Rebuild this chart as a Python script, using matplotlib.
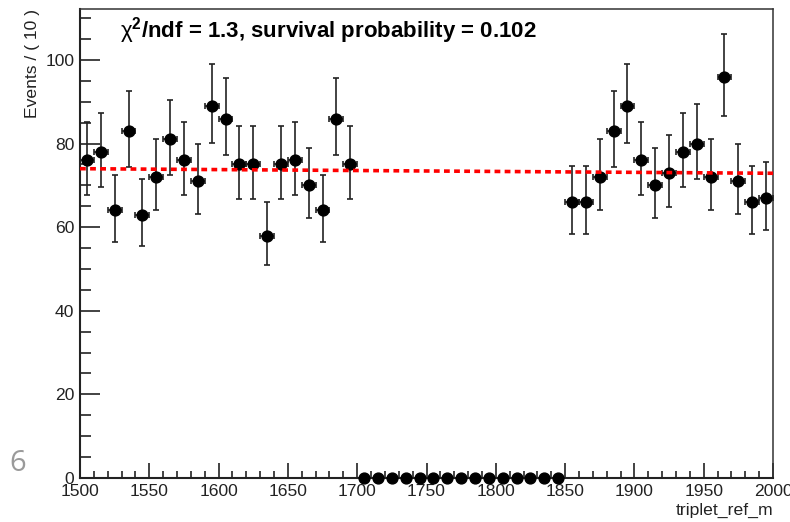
import numpy as np
import matplotlib
matplotlib.use("Agg")
import matplotlib.pyplot as plt
from matplotlib.ticker import MultipleLocator

# ---- data ----
bin_width = 10
x_start = 1500
counts_low = [76, 78, 64, 83, 63, 72, 81, 76, 71, 89, 86, 75, 75, 58, 75, 76, 70, 64, 86, 75]
counts_blind = [0] * 15
counts_high = [66, 66, 72, 83, 89, 76, 70, 73, 78, 80, 72, 96, 71, 66, 67]
fit_x = [1500, 2000]
fit_y = [74.0, 72.9]
x_ticks = [1500, 1550, 1600, 1650, 1700, 1750, 1800, 1850, 1900, 1950, 2000]
y_ticks = [0, 20, 40, 60, 80, 100]
title_text = "$\\mathrm{\\chi}$$^{\\mathbf{2}}$/ndf = 1.3, survival probability = 0.102"
x_label = "triplet_ref_m"
y_label = "Events / ( 10 )"
page_number = "6"

counts = np.array(counts_low + counts_blind + counts_high, dtype=float)
centers = x_start + bin_width * (np.arange(len(counts)) + 0.5)

# Poisson (Garwood-like) asymmetric errors
err_lo = np.sqrt(counts + 0.25) - 0.5
err_hi = np.sqrt(counts + 0.25) + 0.5

plt.rcParams['font.family'] = ['Liberation Sans', 'DejaVu Sans']
plt.rcParams['mathtext.fontset'] = 'custom'
plt.rcParams['mathtext.rm'] = 'Liberation Sans'
plt.rcParams['mathtext.bf'] = 'Liberation Sans:bold'
plt.rcParams['mathtext.it'] = 'Liberation Sans:italic'

fig = plt.figure(figsize=(7.9, 5.22), dpi=100)
ax = fig.add_axes([80 / 790, 1 - 478 / 522, (773 - 80) / 790, (478 - 9) / 522])

nz = counts > 0
ax.errorbar(centers[nz], counts[nz], yerr=[err_lo[nz], err_hi[nz]],
            xerr=bin_width / 2, fmt='o', color='black', ecolor='#222222',
            elinewidth=1.2, capsize=2.4, capthick=1.2, markersize=7.8,
            zorder=3, clip_on=False)
ax.plot(centers[~nz], counts[~nz], 'o', color='black', markersize=7.8,
        zorder=3, clip_on=False)

ax.plot(fit_x, fit_y, color='#ff0000', linewidth=2.6,
        linestyle=(0, (1.6, 1.2)), zorder=4)

ax.set_xlim(1500, 2000)
ax.set_ylim(0, 112.2)

ax.set_xticks(x_ticks)
ax.set_yticks(y_ticks)
ax.xaxis.set_minor_locator(MultipleLocator(10))
ax.yaxis.set_minor_locator(MultipleLocator(5))

ax.tick_params(axis='y', which='major', direction='in', length=14.5, width=1.2,
               labelsize=12.6, colors='#222222', pad=4, right=False)
ax.tick_params(axis='y', which='minor', direction='in', length=7.8, width=1.2,
               right=False, colors='#222222')
ax.tick_params(axis='x', which='major', direction='in', length=10.8, width=1.2,
               labelsize=12.6, colors='#222222', pad=4, top=False)
ax.tick_params(axis='x', which='minor', direction='in', length=5.0, width=1.2,
               top=False, colors='#222222')

for side in ['left', 'bottom']:
    ax.spines[side].set_linewidth(1.5)
    ax.spines[side].set_color('#222222')
for side in ['top', 'right']:
    ax.spines[side].set_linewidth(1.1)
    ax.spines[side].set_color('#333333')

ax.set_xlabel(x_label, fontsize=12.6, color='#222222', loc='right', labelpad=3)
ax.set_ylabel(y_label, fontsize=12.6, color='#222222', loc='top', labelpad=4)

fig.text(120 / 790, 1 - 37.5 / 522, title_text, fontsize=16, fontweight='bold',
         color='black', ha='left', va='baseline')

fig.text(9 / 790, 1 - 471 / 522, page_number, fontsize=21, color='#9a9a9a',
         family=['Open Sans', 'DejaVu Sans'], ha='left', va='baseline')

fig.savefig("out.png", dpi=100)
